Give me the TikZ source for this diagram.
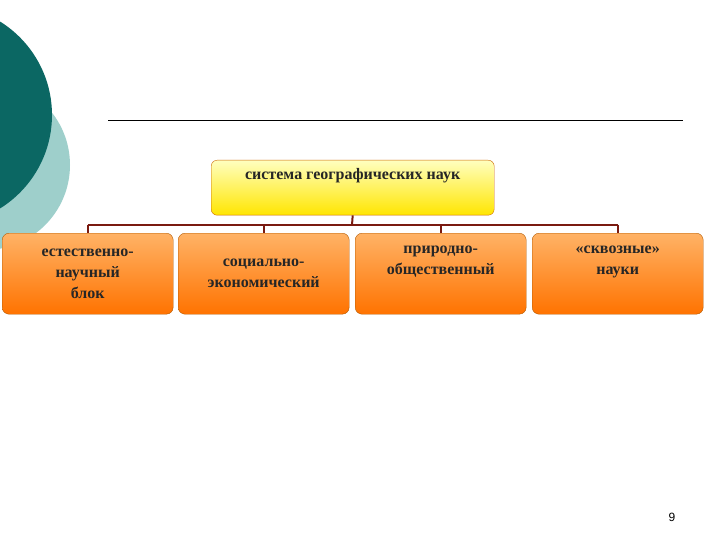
\documentclass[tikz,border=0pt]{standalone}
\usepackage{fontspec}
\setmainfont{Liberation Serif}
\setsansfont{Liberation Sans}
\definecolor{dteal}{HTML}{0B6763}
\definecolor{lteal}{HTML}{9ECFCB}
\definecolor{wire}{HTML}{7A1A10}
\tikzset{
 topbox/.style={draw=orange!80!black, rounded corners=6pt, top color=yellow!25, bottom color=yellow!80!orange, minimum width=283pt, minimum height=55pt, inner sep=2pt, align=center, font=\bfseries\fontsize{16}{19}\selectfont, text=black!85, anchor=north west},
 kid/.style={draw=orange!70!black, rounded corners=7pt, top color=orange!60, bottom color=orange!90!red, minimum width=171pt, minimum height=81pt, inner sep=2pt, align=center, font=\bfseries\fontsize{16}{21}\selectfont, text=black!85, anchor=north west},
 wirel/.style={draw=wire, line width=2pt}
}
\begin{document}
\begin{tikzpicture}[x=1pt,y=-1pt]
\useasboundingbox (0,0) rectangle (720,540);
\begin{scope}
\clip (0,0) rectangle (720,540);
\fill[lteal] (-15,165) circle (85);
\fill[dteal] (-58,115) circle (110);
\end{scope}
\draw[black, line width=0.8pt] (108,120) -- (683,120);
\node[topbox] (top) at (211,160) {система географических наук\\[2pt]\strut};
\node[kid] (a) at (2,233) {естественно-\\научный\\блок};
\node[kid] (b) at (178,233) {социально-\\экономический};
\node[kid] (c) at (355,233) {природно-\\общественный\\\strut};
\node[kid] (d) at (532,233) {«сквозные»\\науки\\\strut};
\coordinate (j) at (352,225);
\draw[wirel] (top.south) -- (j);
\draw[wirel] (a.north |- j) -- (d.north |- j);
\foreach \n in {a,b,c,d} \draw[wirel] (\n.north |- j) -- (\n.north);
\node[font=\sffamily\fontsize{12}{14}\selectfont] (pg) at (672,517) {9};
\end{tikzpicture}
\end{document}
